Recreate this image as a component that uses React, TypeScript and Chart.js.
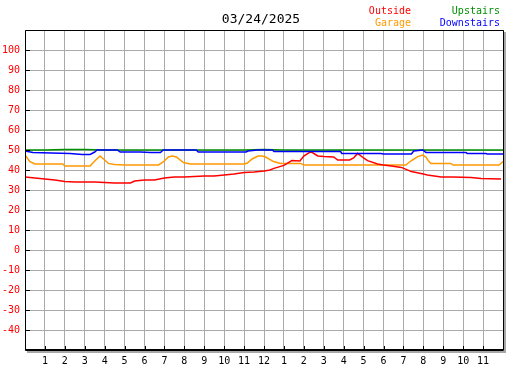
import React, { useEffect, useRef } from "react";
import { Chart, registerables } from "chart.js";

Chart.register(...registerables);

const TITLE = "03/24/2025";
const HOUR_LABELS = ["", "1", "2", "3", "4", "5", "6", "7", "8", "9", "10", "11", "12", "1", "2", "3", "4", "5", "6", "7", "8", "9", "10", "11", ""];
const Y_TICKS_HIDDEN = [110, -50];

const outsideHours = [0, 0.5, 1.0, 1.5, 2.0, 2.5, 3.0, 3.5, 4.0, 4.5, 5.0, 5.3, 5.5, 6.0, 6.5, 7.0, 7.5, 8.0, 8.5, 9.0, 9.5, 10.0, 10.5, 11.0, 11.5, 12.0, 12.3, 12.5, 13.0, 13.4, 13.8, 14.0, 14.35, 14.7, 15.0, 15.5, 15.7, 16.3, 16.5, 16.7, 17.0, 17.2, 17.7, 18.0, 18.4, 18.9, 19.4, 20.0, 20.2, 20.9, 21.5, 22.4, 22.9, 23.9];
const outsideTemps = [36.5, 36.0, 35.5, 35.0, 34.3, 34.0, 34.0, 34.0, 33.7, 33.5, 33.5, 33.5, 34.5, 35.0, 35.0, 36.0, 36.5, 36.5, 36.7, 37.0, 37.0, 37.5, 38.0, 38.8, 39.0, 39.5, 40.0, 40.8, 42.3, 44.7, 44.5, 47.0, 49.2, 47.0, 46.7, 46.5, 45.0, 45.0, 46.0, 48.3, 46.0, 44.7, 43.0, 42.5, 42.0, 41.3, 39.2, 38.0, 37.5, 36.5, 36.5, 36.2, 35.8, 35.5];

const garageHours = [0, 0.25, 0.5, 1.0, 1.9, 2.0, 3.27, 3.5, 3.77, 4.0, 4.18, 4.5, 5.0, 5.8, 6.7, 6.94, 7.2, 7.4, 7.6, 7.95, 8.3, 11.0, 11.17, 11.4, 11.7, 11.92, 12.08, 12.48, 12.83, 13.84, 14.0, 19.12, 19.37, 19.72, 19.97, 20.13, 20.28, 20.38, 21.38, 21.5, 23.8, 24.0];
const garageTemps = [47.5, 44.2, 43.0, 43.0, 43.0, 42.0, 42.0, 44.5, 47.0, 45.0, 43.3, 42.8, 42.5, 42.5, 42.5, 44.0, 46.5, 47.0, 46.5, 43.7, 43.0, 43.0, 43.5, 45.5, 47.0, 47.0, 46.5, 44.2, 43.3, 43.3, 42.5, 42.5, 44.5, 46.7, 47.5, 46.5, 44.2, 43.3, 43.3, 42.5, 42.5, 44.2];

const downstairsHours = [0, 0.4, 2.26, 2.87, 3.27, 3.5, 3.62, 4.63, 4.78, 5.8, 6.3, 6.8, 6.94, 8.6, 8.7, 11.1, 11.2, 11.67, 12.43, 12.5, 15.85, 15.9, 17.86, 18.0, 19.4, 19.52, 19.97, 20.13, 22.14, 22.2, 23.14, 23.2, 24.0];
const downstairsTemps = [49.5, 48.8, 48.3, 47.8, 47.8, 49.0, 50.0, 50.0, 49.0, 49.0, 48.7, 48.7, 50.0, 50.0, 49.0, 49.0, 49.5, 50.0, 50.0, 49.2, 49.2, 48.3, 48.3, 48.0, 48.0, 49.5, 50.0, 48.8, 48.8, 48.3, 48.3, 48.0, 48.0];

const upstairsHours = [0, 1, 2, 3, 4, 5, 6, 7, 8, 9, 10, 11, 12, 13, 14, 15, 16, 17, 18, 19, 20, 21, 22, 23, 24];
const upstairsTemps = [50.0, 50.0, 50.2, 50.2, 50.0, 50.0, 50.0, 50.0, 50.0, 50.0, 50.0, 50.0, 50.2, 50.0, 50.0, 50.0, 50.0, 50.0, 50.0, 50.0, 50.0, 50.0, 50.0, 50.0, 50.0];

const toPoints = (hs: number[], vs: number[]) => hs.map((h, i) => ({ x: h, y: vs[i] }));

const MONO = "'DejaVu Sans Mono', monospace";

const framePlugin = {
  id: "frameDecor",
  afterDraw(chart: any) {
    const { ctx, chartArea } = chart;
    const { left, right, top, bottom } = chartArea;
    const xs = chart.scales.x;
    const ys = chart.scales.y;
    ctx.save();
    // shadow
    ctx.fillStyle = "#a8a8a8";
    ctx.fillRect(right + 1, top + 2, 2, bottom - top + 1);
    ctx.fillRect(left + 2, bottom + 1, right - left + 1, 2);
    // frame
    ctx.strokeStyle = "#000";
    ctx.lineWidth = 1;
    ctx.beginPath();
    ctx.moveTo(left + 0.5, top + 0.5);
    ctx.lineTo(right + 0.5, top + 0.5);
    ctx.lineTo(right + 0.5, bottom + 0.5);
    ctx.lineTo(left + 0.5, bottom + 0.5);
    ctx.closePath();
    ctx.stroke();
    ctx.beginPath();
    ctx.moveTo(left, bottom - 0.5);
    ctx.lineTo(right, bottom - 0.5);
    ctx.stroke();
    // inner ticks
    ctx.beginPath();
    for (let h = 1; h < 24; h++) {
      const px = Math.round(xs.getPixelForValue(h)) + 0.5;
      ctx.moveTo(px, bottom - 4);
      ctx.lineTo(px, bottom);
    }
    for (let v = -40; v <= 100; v += 10) {
      const py = Math.round(ys.getPixelForValue(v)) + 0.5;
      ctx.moveTo(left, py);
      ctx.lineTo(left + 5, py);
    }
    ctx.stroke();
    // title
    ctx.textBaseline = "middle";
    ctx.font = "13px " + MONO;
    ctx.fillStyle = "#000";
    ctx.textAlign = "center";
    ctx.fillText(TITLE, 261, 20);
    // legend
    ctx.font = "10px " + MONO;
    ctx.textAlign = "right";
    ctx.fillStyle = "#ff0000";
    ctx.fillText("Outside", 411, 11);
    ctx.fillStyle = "#ff9900";
    ctx.fillText("Garage", 411, 23);
    ctx.fillStyle = "#008f00";
    ctx.fillText("Upstairs", 500, 11);
    ctx.fillStyle = "#0000ff";
    ctx.fillText("Downstairs", 500, 23);
    ctx.restore();
  },
};

export default function App() {
  const ref = useRef<HTMLCanvasElement>(null);
  useEffect(() => {
    if (!ref.current) return;
    const chart = new Chart(ref.current, {
      type: "line",
      data: {
        datasets: [
          { label: "Downstairs", data: toPoints(downstairsHours, downstairsTemps), borderColor: "#0000ff" },
          { label: "Upstairs", data: toPoints(upstairsHours, upstairsTemps), borderColor: "#008f00" },
          { label: "Outside", data: toPoints(outsideHours, outsideTemps), borderColor: "#ff0000" },
          { label: "Garage", data: toPoints(garageHours, garageTemps), borderColor: "#ff9900" },
        ],
      },
      options: {
        responsive: false,
        animation: false,
        devicePixelRatio: 1,
        layout: { padding: { top: 30, right: 24, left: 0, bottom: 0 } },
        elements: {
          point: { radius: 0 },
          line: { borderWidth: 1.5, tension: 0 },
        },
        plugins: { legend: { display: false }, title: { display: false }, tooltip: { enabled: false } },
        scales: {
          x: {
            type: "linear",
            min: 0,
            max: 24,
            afterFit: (s: any) => { s.height = 20; },
            grid: { color: "#aaaaaa", lineWidth: 1, drawTicks: false },
            border: { display: false },
            ticks: {
              stepSize: 1,
              autoSkip: false,
              maxRotation: 0,
              padding: 5,
              color: "#000",
              font: { family: MONO, size: 10 },
              callback: (v: any) => HOUR_LABELS[Number(v)] ?? "",
            },
          },
          y: {
            min: -50,
            max: 110,
            afterFit: (s: any) => { s.width = 25; },
            grid: { color: "#aaaaaa", lineWidth: 1, drawTicks: false },
            border: { display: false },
            ticks: {
              stepSize: 10,
              padding: 5,
              color: "#ff0000",
              font: { family: MONO, size: 10 },
              callback: (v: any) => (Y_TICKS_HIDDEN.includes(Number(v)) ? "" : String(v)),
            },
          },
        },
      },
      plugins: [framePlugin],
    });
    return () => chart.destroy();
  }, []);
  return (
    <div style={{ position: "fixed", left: 0, top: 0, width: 527, height: 370, background: "#fff" }}>
      <canvas ref={ref} width={527} height={370} />
    </div>
  );
}
